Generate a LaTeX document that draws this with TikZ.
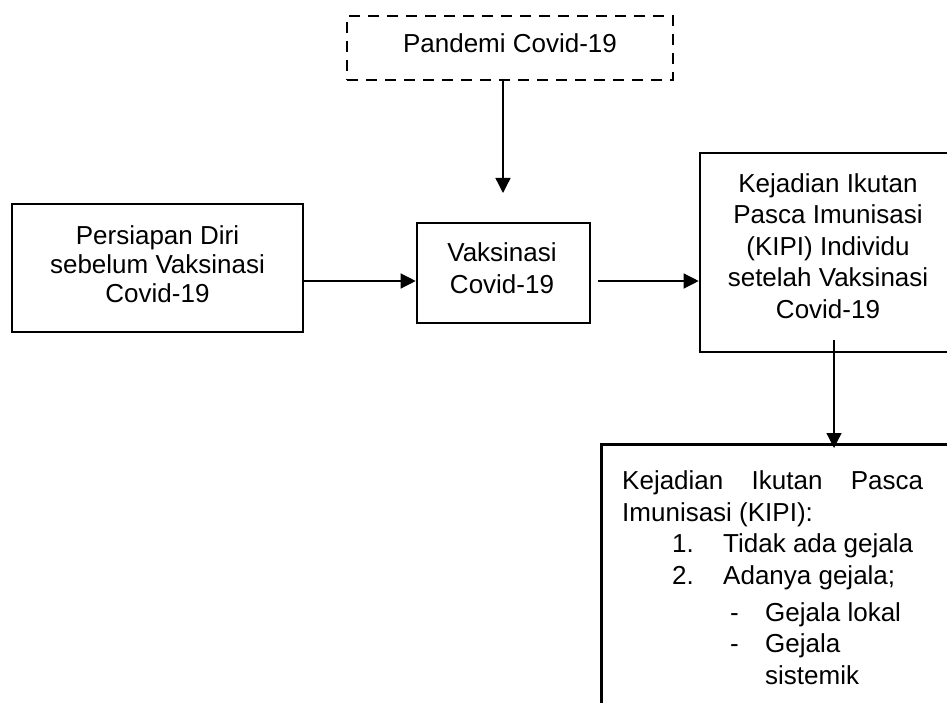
\documentclass[tikz,border=0pt]{standalone}
\usepackage{fontspec}
\setmainfont{Liberation Sans}
\usetikzlibrary{arrows.meta}
\begin{document}
\begin{tikzpicture}[x=1pt,y=-1pt,
  box/.style={draw,line width=2.6pt,rectangle,inner sep=0pt},
  dashbox/.style={box,dash pattern=on 11pt off 8pt},
  lbl/.style={anchor=north,inner sep=0pt,align=center},
  arr/.style={line width=1.3pt,-{Triangle[length=15pt,width=15pt]}},
  txt/.style={anchor=base west,inner sep=0pt,font=\fontsize{26}{30}\selectfont}]
\useasboundingbox (0,0) rectangle (947,703);
\clip (0,0) rectangle (947,703);
% boxes
\node[dashbox,minimum width=326pt,minimum height=64pt] (pan) at (510,48) {};
\node[box,minimum width=291pt,minimum height=128pt] (per) at (157.5,268) {};
\node[box,minimum width=173pt,minimum height=100pt] (vak) at (503.5,273) {};
\node[box,minimum width=256pt,minimum height=199pt] (kipi) at (828,252.5) {};
\node[box,anchor=north west,minimum width=360pt,minimum height=300pt] (kb) at (600,443) {};
% labels
\node[lbl,font=\fontsize{26}{30}\selectfont] (pant) at (510,33) {Pandemi Covid-19};
\node[lbl,font=\fontsize{26}{29}\selectfont] (pert) at (157.5,225) {Persiapan Diri\\sebelum Vaksinasi\\Covid-19};
\node[lbl,font=\fontsize{26}{32}\selectfont] (vakt) at (502,242) {Vaksinasi\\Covid-19};
\node[lbl,font=\fontsize{26}{31.5}\selectfont] (kipit) at (828,173) {Kejadian Ikutan\\Pasca Imunisasi\\(KIPI) Individu\\setelah Vaksinasi\\Covid-19};
\node[txt] (t1) at (622,489) {\hbox to 301pt{Kejadian\hfill Ikutan\hfill Pasca}};
\node[txt] (t2) at (622,521) {Imunisasi (KIPI):};
\node[txt] (t3) at (672,552) {1.};
\node[txt] (t3b) at (723,552) {Tidak ada gejala};
\node[txt] (t4) at (672,584) {2.};
\node[txt] (t4b) at (723,584) {Adanya gejala;};
\node[txt] (t5) at (730,621) {-};
\node[txt] (t5b) at (765,621) {Gejala lokal};
\node[txt] (t6) at (730,652) {-};
\node[txt] (t6b) at (765,652) {Gejala};
\node[txt] (t7) at (765,684) {sistemik};
% connectors
\draw[arr,shorten >=30pt] (pan.south -| 503,0) -- (503,223);
\draw[arr] (per.east |- 0,281) -- (vak.west |- 0,281);
\draw[arr,shorten <=7pt] (vak.east |- 0,281) -- (kipi.west |- 0,281);
\coordinate (s) at (834,340);
\draw[arr,shorten >=-5pt] (s) -- (s |- kb.north);
\end{tikzpicture}
\end{document}
